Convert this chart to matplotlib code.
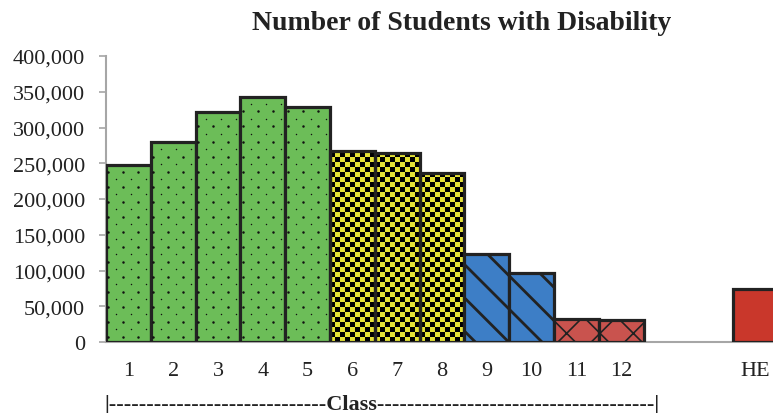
import numpy as np
import matplotlib.pyplot as plt
from matplotlib.colors import ListedColormap

plt.rcParams['font.family'] = ['Liberation Serif', 'DejaVu Serif']

# enrolment of students with disability by class, plus higher education (HE)
classes = ["1", "2", "3", "4", "5", "6", "7", "8", "9", "10", "11", "12", "HE"]
students = [247000, 280000, 322000, 342000, 328000, 267000, 264000, 236000,
            123000, 97000, 32000, 31000, 74000]
# school stage of each bar: primary, upper primary, secondary, higher secondary, HE
stage = ["p", "p", "p", "p", "p", "u", "u", "u", "s", "s", "h", "h", "he"]

styles = {
    "p": dict(color="#6CBD58", hatch=None),   # dotted, drawn separately
    "u": dict(color="#E4E236", hatch=None),   # checkerboard, drawn separately
    "s": dict(color="#3D7EC6", hatch="\\"),
    "h": dict(color="#C9534E", hatch="x"),
    "he": dict(color="#C9372B", hatch=None),
}

# leave two empty slots before HE
positions = [i + 1 for i in range(12)] + [15]

fig = plt.figure(figsize=(7.73, 4.14), dpi=100)
ax = fig.add_axes([106 / 773, 71 / 414, 672 / 773, 286 / 414])

edge_w = 2.3
ink = "#222222"
for x, v, s in zip(positions, students, stage):
    st = styles[s]
    if s == "u":
        # yellow/black checker, clipped to the bar outline
        cw, ch = 1 / 9, 7000
        nrows = int(np.ceil(v / ch))
        yy, xx = np.indices((nrows, 9))
        checker = (xx + yy) % 2
        bar = ax.bar(x, v, width=1.0, facecolor="none", edgecolor=ink,
                     linewidth=edge_w, zorder=3)[0]
        im = ax.imshow(checker, cmap=ListedColormap([st["color"], "black"]),
                       extent=(x - 0.5, x + 0.5, nrows * ch, 0),
                       aspect="auto", interpolation="nearest", zorder=2)
        im.set_clip_path(bar)
        continue

    b = ax.bar(x, v, width=1.0, facecolor=st["color"], edgecolor=ink,
               linewidth=edge_w, hatch=st["hatch"], zorder=3)[0]
    if st["hatch"] == "\\":
        b.set_hatch_linewidth(2.0)
    elif st["hatch"] == "x":
        b.set_hatch_linewidth(1.2)

    if s == "p":
        # staggered dot lattice: larger dots on one row, small on the next
        step_x, step_y = 0.335, 21000
        gx = 0.551 + step_x * np.arange(45)
        for y0, off, size in ((7400, 0.0, 3.2), (17900, step_x / 2, 1.1)):
            gy = y0 + step_y * np.arange(20)
            px, py = np.meshgrid(gx + off, gy)
            keep = ((px > x - 0.46) & (px < x + 0.46) & (py < v - 2500))
            ax.scatter(px[keep], py[keep], s=size, color="#111111",
                       linewidths=0, zorder=4)

ax.set_xlim(0.5, 15.5)
ax.set_ylim(0, 400000)

ax.set_xticks(positions)
ax.set_xticklabels(classes)
ax.set_yticks(np.arange(0, 400001, 50000))
ax.set_yticklabels([f"{int(t):,}" for t in ax.get_yticks()])

ax.tick_params(axis="x", length=0, labelsize=16, pad=14, colors=ink)
ax.tick_params(axis="y", length=5, width=1.2, color="#A6A6A6",
               labelsize=16, pad=10, labelcolor=ink)

for side in ("top", "right"):
    ax.spines[side].set_visible(False)
for side in ("left", "bottom"):
    ax.spines[side].set_color("#A6A6A6")
    ax.spines[side].set_linewidth(1.5)
ax.spines["bottom"].set_zorder(1)

fig.text(462 / 773, 390 / 414, "Number of Students with Disability",
         ha="center", va="center", fontsize=20, fontweight="bold",
         color=ink)
fig.text(382 / 773, 9 / 414,
         "|" + "-" * 29 + "Class" + "-" * 37 + "|",
         ha="center", va="center", fontsize=16, fontweight="bold",
         color=ink)

fig.savefig("out.png", dpi=100)
